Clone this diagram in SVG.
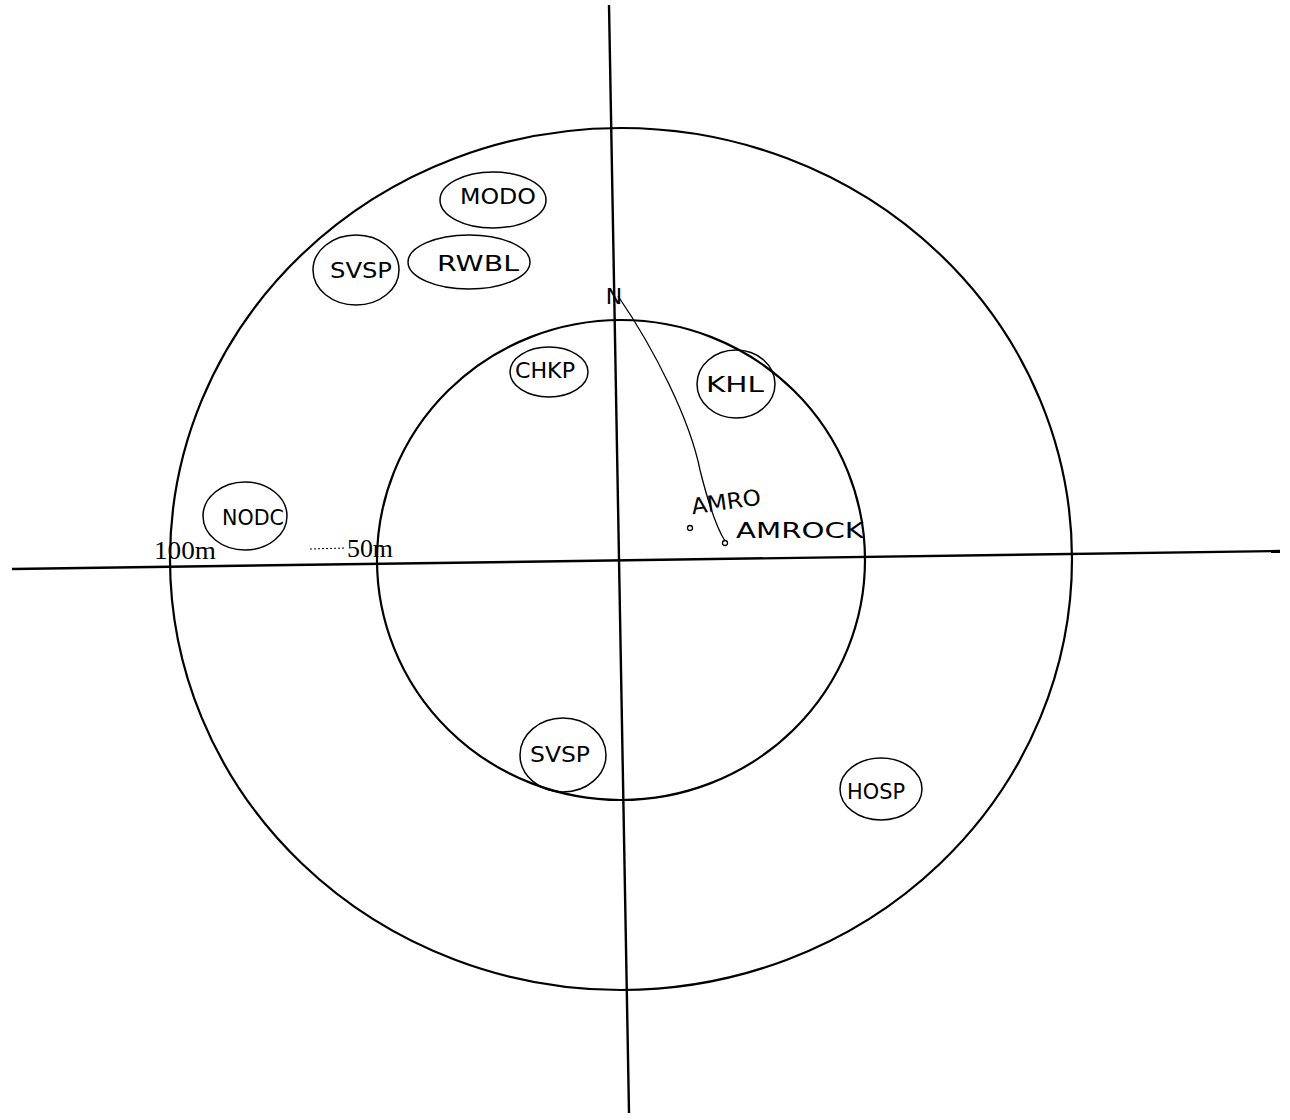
<svg xmlns="http://www.w3.org/2000/svg" width="1290" height="1120" viewBox="0 0 1290 1120">
<style>
.ring{fill:none;stroke:#000;stroke-width:2.2}
.axis{fill:none;stroke:#000;stroke-width:2.4}
.node ellipse{fill:none;stroke:#000;stroke-width:1.5}
.hand{font-family:"DejaVu Sans","Liberation Sans",sans-serif;font-size:22px;fill:#000;text-anchor:middle;dominant-baseline:central}
.scale{font-family:"Liberation Serif",serif;font-size:25px;fill:#000}
.thin{fill:none;stroke:#000;stroke-width:1.3}
</style>
<rect width="1290" height="1120" fill="#fff"/>
<g id="rings">
<ellipse class="ring" cx="621" cy="559" rx="451" ry="431"/>
<ellipse class="ring" cx="621" cy="560" rx="244" ry="240"/>
</g>
<g id="axes">
<line class="axis" x1="609" y1="5" x2="629" y2="1113"/>
<line class="axis" x1="12" y1="569" x2="1280" y2="551"/>
</g>
<g id="scale-labels">
<text class="scale" x="154" y="559" textLength="62" lengthAdjust="spacingAndGlyphs">100m</text>
<path d="M310 549 L345 548" stroke="#000" stroke-width="1" stroke-dasharray="2 2" fill="none"/>
<text class="scale" x="347" y="557" textLength="46" lengthAdjust="spacingAndGlyphs">50m</text>
</g>
<g id="node-modo" class="node"><ellipse cx="493" cy="200" rx="53" ry="28"/><text class="hand" x="498" y="196" textLength="76" lengthAdjust="spacingAndGlyphs">MODO</text></g>
<g id="node-svsp-top" class="node"><ellipse cx="356" cy="270" rx="43" ry="35"/><text class="hand" x="361" y="270" textLength="62" lengthAdjust="spacingAndGlyphs">SVSP</text></g>
<g id="node-rwbl" class="node"><ellipse cx="469" cy="262" rx="61" ry="27"/><text class="hand" x="478" y="263" textLength="82" lengthAdjust="spacingAndGlyphs">RWBL</text></g>
<g id="node-chkp" class="node"><ellipse cx="549" cy="372" rx="39" ry="25"/><text class="hand" x="545" y="370" textLength="60" lengthAdjust="spacingAndGlyphs">CHKP</text></g>
<g id="node-khl" class="node"><ellipse cx="736" cy="384" rx="39" ry="34"/><text class="hand" x="735" y="384" textLength="58" lengthAdjust="spacingAndGlyphs">KHL</text></g>
<g id="node-nodc" class="node"><ellipse cx="245" cy="516" rx="42" ry="34"/><text class="hand" x="253" y="517" textLength="62" lengthAdjust="spacingAndGlyphs">NODC</text></g>
<g id="node-svsp-bottom" class="node"><ellipse cx="563" cy="755" rx="43" ry="37"/><text class="hand" x="560" y="754" textLength="60" lengthAdjust="spacingAndGlyphs">SVSP</text></g>
<g id="node-hosp" class="node"><ellipse cx="881" cy="789" rx="41" ry="31"/><text class="hand" x="876" y="791" textLength="58" lengthAdjust="spacingAndGlyphs">HOSP</text></g>
<g id="node-amro">
<text class="hand" x="726" y="502" transform="rotate(-8 726 502)" textLength="70" lengthAdjust="spacingAndGlyphs">AMRO</text>
<circle class="thin" cx="690" cy="528" r="2.5"/>
</g>
<g id="node-amrock">
<text class="hand" x="800" y="530" textLength="128" lengthAdjust="spacingAndGlyphs">AMROCK</text>
<circle class="thin" cx="725" cy="543" r="2.5"/>
</g>
<g id="node-north">
<text class="hand" x="614" y="296" font-size="26">N</text>
</g>
<g id="connectors">
<path class="thin" d="M618 296 C655 350 690 420 700 470 C710 510 718 530 725 541"/>
</g>
</svg>
